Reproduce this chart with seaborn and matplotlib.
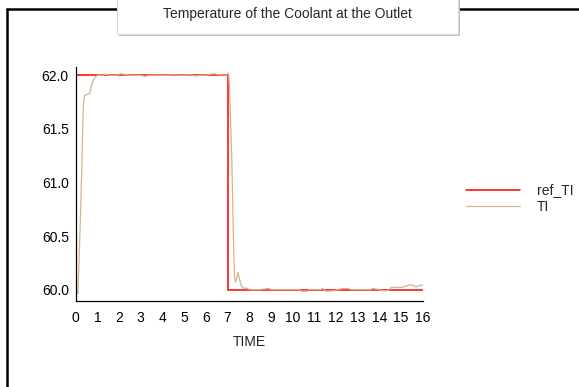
import numpy as np
import pandas as pd
import matplotlib
matplotlib.use("Agg")
import matplotlib.pyplot as plt
from matplotlib.patches import Rectangle
from matplotlib.lines import Line2D
from matplotlib.ticker import MultipleLocator
import seaborn as sns

title = "Temperature of the Coolant at the Outlet"
x_label = "TIME"
series_names = ["ref_TI", "TI"]
series_colors = ["#ff0000", "#d2b48c"]

ref_time = [0.0, 0.0, 7.0, 7.0, 16.0]
ref_value = [60.0, 62.0, 62.0, 60.0, 60.0]

ti_time = [0.0, 0.1, 0.2, 0.29, 0.35, 0.4, 0.5, 0.65, 0.72, 0.8, 0.9, 1.0, 1.2,
           1.4, 1.5, 1.6, 1.9, 2.0, 2.1, 2.3, 2.5, 3.0, 3.2, 3.4, 3.8, 4.2, 4.6,
           5.0, 5.3, 5.5, 5.7, 6.0, 6.2, 6.4, 6.6, 6.9, 7.0, 7.05, 7.1, 7.2,
           7.27, 7.32, 7.37, 7.42, 7.48, 7.55, 7.65, 7.75, 7.85, 7.95, 8.1, 8.5,
           8.9, 9.0, 9.5, 10.0, 10.3, 10.4, 10.7, 10.8, 11.3, 11.4, 11.5, 11.6,
           11.95, 12.1, 12.3, 12.55, 12.7, 13.0, 13.6, 13.7, 14.0, 14.1, 14.4,
           14.55, 14.7, 15.0, 15.2, 15.4, 15.55, 15.7, 15.86, 16.0]
ti_value = [60.0, 59.96, 60.55, 61.2, 61.7, 61.81, 61.82, 61.83, 61.9, 61.95,
            61.98, 62.0, 62.0, 62.01, 62.005, 62.0, 62.0, 62.01, 62.015, 62.005,
            62.0, 62.0, 61.99, 62.0, 62.0, 62.0, 62.005, 62.0, 62.005, 61.995,
            62.0, 62.0, 62.01, 62.015, 62.005, 62.0, 62.01, 62.02, 61.85, 61.2,
            60.5, 60.12, 60.07, 60.1, 60.16, 60.1, 60.03, 60.01, 60.015, 60.005,
            60.0, 60.0, 60.01, 60.0, 60.0, 60.0, 60.0, 59.985, 59.985, 60.0,
            60.0, 60.01, 59.99, 59.985, 59.99, 60.0, 60.01, 60.01, 60.0, 60.0,
            60.0, 60.01, 60.0, 59.99, 59.99, 60.02, 60.02, 60.02, 60.03, 60.045,
            60.04, 60.025, 60.04, 60.04]

df = pd.concat([
    pd.DataFrame({"TIME": ref_time, "value": ref_value, "series": series_names[0]}),
    pd.DataFrame({"TIME": ti_time, "value": ti_value, "series": series_names[1]}),
], ignore_index=True)

sns.set_style("white")
plt.rcParams["font.family"] = ["Liberation Sans", "DejaVu Sans"]
FS = 10

W, H = 579, 387
fig = plt.figure(figsize=(W / 100, H / 100), dpi=100)
ax = fig.add_axes([75.7 / W, 1 - 300.5 / H, (422.7 - 75.7) / W, (300.5 - 67.3) / H])

for name, col, lw in zip(series_names, series_colors, [1.1, 0.9]):
    sub = df[df["series"] == name]
    sns.lineplot(data=sub, x="TIME", y="value", ax=ax, color=col, lw=lw,
                 estimator=None, sort=False, label=name, legend=False)

ax.set_xlim(0, 16)
ax.set_ylim(59.898, 62.075)
ax.xaxis.set_major_locator(MultipleLocator(1))
ax.xaxis.set_minor_locator(MultipleLocator(0.5))
ax.yaxis.set_major_locator(MultipleLocator(0.5))
ax.yaxis.set_minor_locator(MultipleLocator(0.25))
ax.yaxis.set_major_formatter(matplotlib.ticker.FormatStrFormatter("%.1f"))
ax.tick_params(which="both", direction="inout", length=6, width=0.9, color="black",
               labelsize=FS, labelcolor="black")
ax.tick_params(axis="x", which="both", pad=4.5)
ax.tick_params(axis="y", which="both", pad=2)
for s in ["top", "right"]:
    ax.spines[s].set_visible(False)
for s in ["left", "bottom"]:
    ax.spines[s].set_color("black")
    ax.spines[s].set_linewidth(0.9)
ax.set_ylabel("")
ax.set_xlabel(x_label, fontsize=FS, labelpad=7)

handles = [Line2D([], [], color=series_colors[0], lw=1.1),
           Line2D([], [], color=series_colors[1], lw=0.9)]
fig.legend(handles, series_names, loc="upper left",
           bbox_to_anchor=(459 / W, 1 - 176.5 / H), frameon=False,
           fontsize=FS, handlelength=3.9, handletextpad=1.2,
           labelspacing=0.2, borderpad=0)

# outer frame (top and left)
fig.add_artist(Line2D([6.5 / W, 6.5 / W], [0, 1 - 9 / H], transform=fig.transFigure,
                      color="black", lw=1.8))
fig.add_artist(Line2D([6.5 / W, 1], [1 - 9 / H, 1 - 9 / H], transform=fig.transFigure,
                      color="black", lw=1.8))
# title box with shadow
fig.add_artist(Rectangle((119 / W, 1 - 35.5 / H), 341 / W, 40 / H, transform=fig.transFigure,
                         facecolor="#c0c0c0", edgecolor="none", zorder=5))
fig.add_artist(Rectangle((117 / W, 1 - 34 / H), 341 / W, 40 / H, transform=fig.transFigure,
                         facecolor="white", edgecolor="#d8d8d8", lw=0.8, zorder=6))
fig.text(287 / W, 1 - 14 / H, title, ha="center", va="center", fontsize=FS, zorder=7)

fig.savefig("out.png", dpi=100, facecolor="white")
